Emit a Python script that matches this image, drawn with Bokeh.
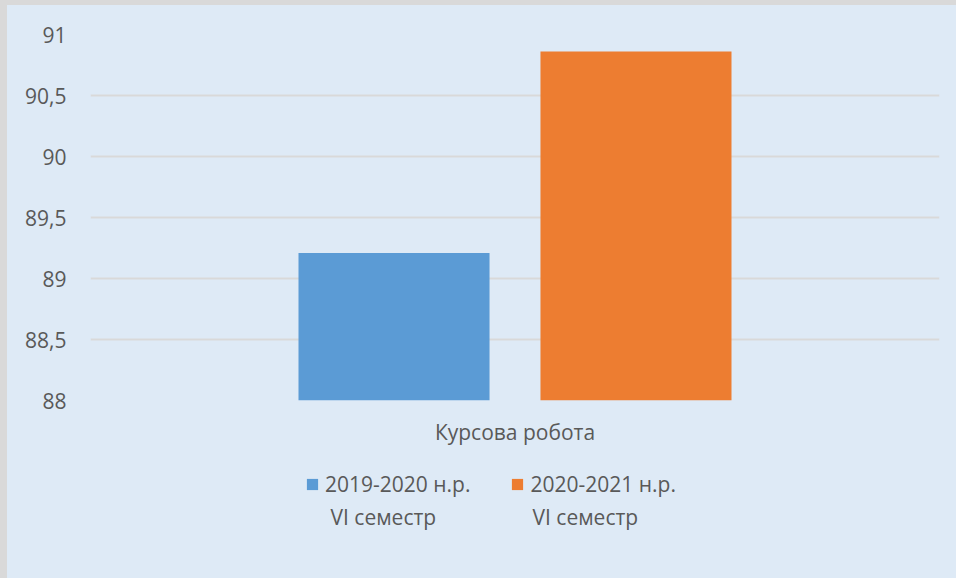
from bokeh.plotting import figure
from bokeh.layouts import column
from bokeh.models import FactorRange, Range1d, FixedTicker, Legend, LegendItem, ColumnDataSource, Label
from bokeh.transform import dodge
from bokeh.embed import file_html
from bokeh.resources import INLINE

categories = ["Курсова робота"]
series_line1 = ["2019-2020 н.р.", "2020-2021 н.р."]
series_line2 = ["VI семестр", "VI семестр"]
values_2019_2020 = [89.21]
values_2020_2021 = [90.86]
y_ticks = [88, 88.5, 89, 89.5, 90, 90.5, 91]
y_tick_labels = ["88", "88,5", "89", "89,5", "90", "90,5", "91"]
colors = ["#5B9BD5", "#ED7D31"]

FONT = "Open Sans"
TXT = "#595959"
BG = "#DEEAF6"
FS = "21px"

src = ColumnDataSource(dict(cat=categories, a=values_2019_2020, b=values_2020_2021))
xr = FactorRange(factors=categories, range_padding=0)

p = figure(width=949, height=445, output_backend="svg", toolbar_location=None,
           x_range=xr, y_range=Range1d(88, 91),
           min_border_left=83, min_border_right=17, min_border_top=29, min_border_bottom=50)
p.background_fill_color = BG
p.border_fill_color = BG
p.outline_line_color = None

bar_kw = dict(bottom=88, width=0.225, source=src, line_color=None)
r1 = p.vbar(x=dodge("cat", -0.1425, range=xr), top="a", fill_color=colors[0], **bar_kw)
r2 = p.vbar(x=dodge("cat", 0.1425, range=xr), top="b", fill_color=colors[1], **bar_kw)

p.xgrid.visible = False
p.ygrid.grid_line_color = "#D9D9D9"
p.ygrid.grid_line_width = 2
p.ygrid.ticker = FixedTicker(ticks=y_ticks)

p.yaxis.ticker = FixedTicker(ticks=y_ticks)
p.yaxis.major_label_overrides = {t: l for t, l in zip(y_ticks, y_tick_labels)}
p.yaxis.axis_line_color = None
p.yaxis.major_tick_line_color = None
p.yaxis.minor_tick_line_color = None
p.yaxis.major_tick_out = 0
p.yaxis.major_tick_in = 0
p.yaxis.major_label_standoff = 24
p.yaxis.major_label_text_font = FONT
p.yaxis.major_label_text_font_size = FS
p.yaxis.major_label_text_color = TXT

p.xaxis.axis_line_color = None
p.xaxis.major_tick_line_color = None
p.xaxis.major_tick_out = 0
p.xaxis.major_tick_in = 0
p.xaxis.major_label_standoff = 17
p.xaxis.major_label_text_font = FONT
p.xaxis.major_label_text_font_size = FS
p.xaxis.major_label_text_color = TXT

# legend strip
q = figure(width=949, height=128, output_backend="svg", toolbar_location=None,
           x_range=xr, y_range=Range1d(0, 1),
           min_border_left=0, min_border_right=0, min_border_top=0, min_border_bottom=0)
q.background_fill_alpha = 0
q.border_fill_color = BG
q.outline_line_color = None
q.axis.visible = False
q.grid.visible = False
l1 = q.vbar(x=dodge("cat", -0.1425, range=xr), top="a", fill_color=colors[0], visible=False, **bar_kw)
l2 = q.vbar(x=dodge("cat", 0.1425, range=xr), top="b", fill_color=colors[1], visible=False, **bar_kw)

legend = Legend(items=[LegendItem(label=series_line1[0], renderers=[l1]),
                       LegendItem(label=series_line1[1], renderers=[l2])],
                orientation="horizontal", location=(215, 80),
                glyph_width=14, glyph_height=14, label_standoff=6, spacing=40,
                padding=0, margin=0, border_line_color=None, background_fill_alpha=0,
                label_text_font=FONT, label_text_font_size=FS, label_text_color=TXT)
q.add_layout(legend, "center")

for xs, t in zip([240, 442], series_line2):
    q.add_layout(Label(x=xs, y=62, x_units="screen", y_units="screen", text=t,
                       text_font=FONT, text_font_size=FS, text_color=TXT,
                       text_baseline="middle", text_align="left"))

layout = column(p, q, spacing=0,
                styles={"border-left": "7px solid #D9D9D9", "border-top": "5px solid #D9D9D9",
                        "background-color": BG})
open("out.html", "w").write(file_html(layout, INLINE))
